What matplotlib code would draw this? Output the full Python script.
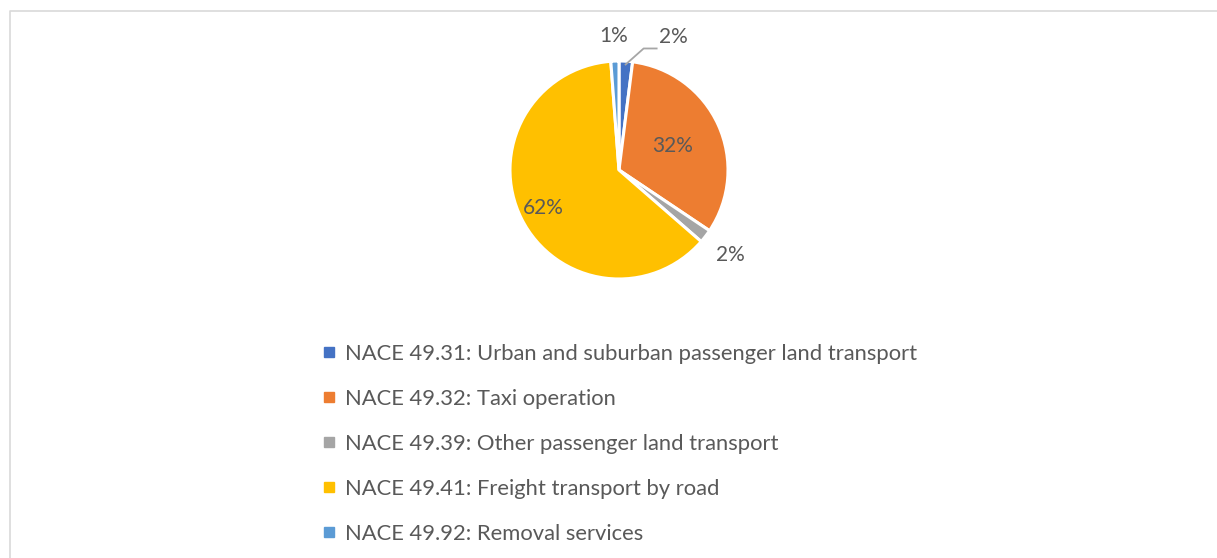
import numpy as np
import matplotlib
matplotlib.use("Agg")
import matplotlib.pyplot as plt
from matplotlib.lines import Line2D

# shares (per cent)
categories = ["NACE 49.31: Urban and suburban passenger land transport",
              "NACE 49.32: Taxi operation",
              "NACE 49.39: Other passenger land transport",
              "NACE 49.41: Freight transport by road",
              "NACE 49.92: Removal services"]
shares = [2.0, 32.4, 2.0, 62.4, 1.2]
colors = ["#4472C4", "#ED7D31", "#A5A5A5", "#FFC000", "#5B9BD5"]
# distance of each percentage label from the centre (in radii)
label_r = [1.25, 0.54, 1.29, 0.78, 1.23]

plt.rcParams['font.family'] = ['Lato', 'DejaVu Sans']
TXT = "#595959"

W, H = 1217, 558
fig = plt.figure(figsize=(W / 100, H / 100), dpi=100)
ax = fig.add_axes([0, 0, 1, 1])

# chart frame (only top and left edges are visible)
ax.plot([9.5, 9.5, W], [0, H - 10.5, H - 10.5], color="#D9D9D9", lw=1.2)

cx, cy, R = 619, H - 170, 109
wedges, _ = ax.pie(shares, colors=colors, startangle=90, counterclock=False,
                   center=(cx, cy), radius=R, frame=True,
                   wedgeprops=dict(edgecolor="white", linewidth=2.2))
ax.set_xlim(0, W)
ax.set_ylim(0, H)
ax.set_aspect("equal")
ax.axis("off")

total = sum(shares)
for i, (w, s) in enumerate(zip(wedges, shares)):
    mid = np.deg2rad((w.theta1 + w.theta2) / 2)
    dx, dy = np.cos(mid), np.sin(mid)
    txt = f"{round(100 * s / total):d}%"
    if i == 0:
        # leader line to the label
        x0, y0 = cx + dx * R * 0.97, cy + dy * R * 0.97
        x1, y1 = x0 + 18, y0 + 16
        ax.plot([x0, x1, x1 + 13], [y0, y1, y1], color="#A6A6A6", lw=1.3)
        ax.text(x1 + 15, y1 + 11, txt, fontsize=15, color=TXT,
                ha="left", va="center")
    else:
        ax.text(cx + dx * R * label_r[i], cy + dy * R * label_r[i], txt,
                fontsize=15, color=TXT, ha="center", va="center")

handles = [Line2D([], [], marker="s", ls="none", color=c, markersize=7)
           for c in colors]
fig.legend(handles, categories, loc="upper left",
           bbox_to_anchor=(314 / W, 1 - 335 / H), frameon=False,
           fontsize=15.8, labelcolor=TXT, handlelength=0.6, handletextpad=0.42,
           labelspacing=1.14, borderaxespad=0)

fig.savefig("out.png", dpi=100)
